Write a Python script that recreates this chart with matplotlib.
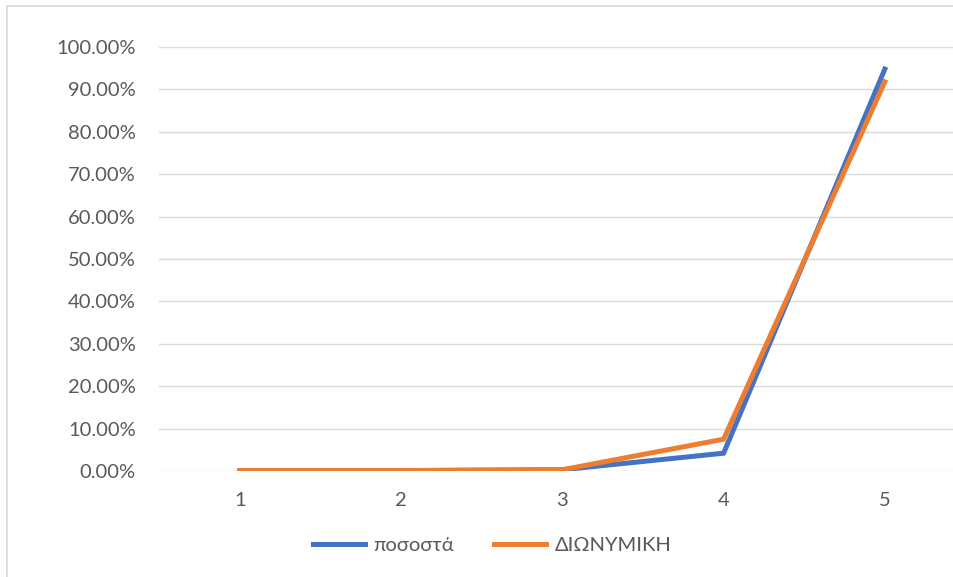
import matplotlib
matplotlib.use("Agg")
import matplotlib.pyplot as plt
from matplotlib.lines import Line2D
from matplotlib.ticker import FuncFormatter

plt.rcParams['font.family'] = ['Lato', 'DejaVu Sans']

x = [1, 2, 3, 4, 5]
pososta = [0.1, 0.1, 0.3, 4.2, 94.8]
dionymiki = [0.1, 0.1, 0.3, 7.5, 91.8]

fig = plt.figure(figsize=(9.54, 5.77), dpi=100)
ax = fig.add_axes([0.167, 0.1837, 0.845, 0.7348])

ax.plot(x, pososta, color='#4472C4', lw=3.6, solid_joinstyle='miter', label='ποσοστά')
ax.plot(x, dionymiki, color='#ED7D31', lw=3.6, solid_joinstyle='miter', label='ΔΙΩΝΥΜΙΚΗ')

ax.set_xlim(0.5, 5.5)
ax.set_ylim(0, 100)
ax.set_xticks(x)
ax.set_yticks(range(0, 101, 10))
ax.yaxis.set_major_formatter(FuncFormatter(lambda v, p: f"{v:.2f}%"))
ax.grid(axis='y', color='#D9D9D9', lw=1)
ax.set_axisbelow(True)
for s in ax.spines.values():
    s.set_visible(False)
ax.tick_params(length=0, labelsize=14.5, colors='#595959')
ax.tick_params(axis='y', pad=17)
ax.tick_params(axis='x', pad=15)

leg = fig.legend(loc='center', bbox_to_anchor=(492 / 954, 1 - 545 / 577), ncol=2,
                 frameon=False, fontsize=14.5, handlelength=2.6, columnspacing=2.0,
                 handletextpad=0.4)
for t in leg.get_texts():
    t.set_color('#595959')

# outer chart frame (left and top edges only)
fx, fy = 7.5 / 954, 1 - 5.5 / 577
fig.add_artist(Line2D([fx, fx], [0, fy], transform=fig.transFigure, color='#D9D9D9', lw=1.2))
fig.add_artist(Line2D([fx, 1], [fy, fy], transform=fig.transFigure, color='#D9D9D9', lw=1.2))

fig.savefig('out.png', dpi=100)
